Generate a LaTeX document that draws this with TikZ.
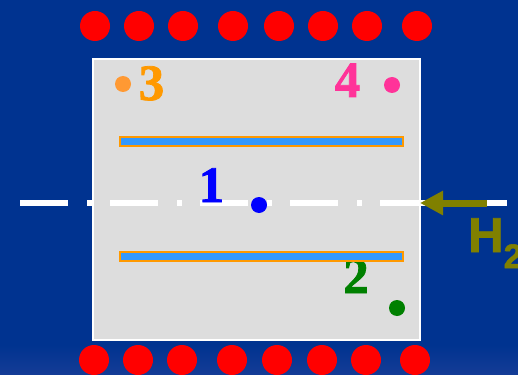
\documentclass[tikz,border=0pt]{standalone}
\usepackage{fontspec}
\setmainfont{Liberation Serif}
\setsansfont{Liberation Sans}
\newfontfamily\numfont{Liberation Serif Bold}[FakeBold=1.5]
\newfontfamily\gasfont{Liberation Sans Bold}[FakeBold=1.5]
\usetikzlibrary{arrows.meta}
\definecolor{bgblue}{HTML}{003390}
\definecolor{bgblue2}{HTML}{143C96}
\definecolor{panel}{HTML}{DDDDDD}
\definecolor{barblue}{HTML}{3399FF}
\definecolor{barorange}{HTML}{FF9900}
\definecolor{dotorange}{HTML}{FF9933}
\definecolor{pink}{HTML}{FF3399}
\definecolor{myblue}{HTML}{0000FF}
\definecolor{mygreen}{HTML}{008000}
\definecolor{myolive}{HTML}{808000}
\tikzset{
  magnet/.style={circle, fill=red, minimum size=30pt, inner sep=0pt},
  probe/.style={circle, minimum size=16pt, inner sep=0pt},
  numlabel/.style={inner sep=0pt, anchor=base, font=\numfont\fontsize{51}{51}\selectfont},
  plate/.style={fill=barblue, draw=barorange, line width=1.2pt},
}
\begin{document}
\begin{tikzpicture}[x=1pt,y=-1pt]
\useasboundingbox (0,0) rectangle (518,374);
\fill[bgblue] (0,0) rectangle (518,374);
\shade[top color=bgblue, bottom color=bgblue2] (0,345) rectangle (518,374);
% magnets
\foreach \i/\x in {1/95,2/139,3/183,4/233,5/279,6/323,7/367,8/417}
  \node[magnet] (t\i) at (\x,26) {};
\foreach \i/\x in {1/94,2/138,3/182,4/232,5/277,6/322,7/366,8/415}
  \node[magnet] (b\i) at (\x,360) {};
% panel
\node[draw=white, line width=1.5pt, fill=panel, inner sep=0pt, minimum width=327pt, minimum height=281pt] (panel) at (256.5,199.5) {};
% axis
\coordinate (axl) at (20,203);
\coordinate (axr) at (507,203);
\draw[white, line width=5.5pt, dash pattern=on 48pt off 19pt on 5pt off 18pt] (axl) -- (axr);
% plates
\node[plate, minimum width=283pt, minimum height=9pt, inner sep=0pt] (plateA) at (261.5,141.5) {};
% labels and probes
\node[probe, fill=dotorange] (p3) at (123,84) {};
\node[numlabel, text=barorange] (l3) at (151.5,100) {3};
\node[probe, fill=pink] (p4) at (392,85) {};
\node[numlabel, text=pink] (l4) at (347.5,97) {4};
\node[numlabel, text=myblue] (l1) at (211.5,202) {1};
\node[probe, fill=myblue] (p1) at (259,205) {};
\node[numlabel, text=mygreen] (l2) at (356,293) {2};
\node[probe, fill=mygreen] (p2) at (397,308) {};
\node[plate, minimum width=283pt, minimum height=9pt, inner sep=0pt] (plateB) at (261.5,256.5) {};
% gas inlet
\coordinate (gasstart) at (487,203);
\coordinate (gastip) at (420,203);
\draw[myolive, line width=7pt, -{Triangle[length=23pt,width=23pt]}] (gasstart) -- (gastip);
\node[inner sep=0pt, anchor=base west, text=myolive, font=\gasfont\fontsize{49}{49}\selectfont] (h2) at (468,252) {H{\fontsize{34}{34}\selectfont\raisebox{-16pt}{2}}};
\end{tikzpicture}
\end{document}
